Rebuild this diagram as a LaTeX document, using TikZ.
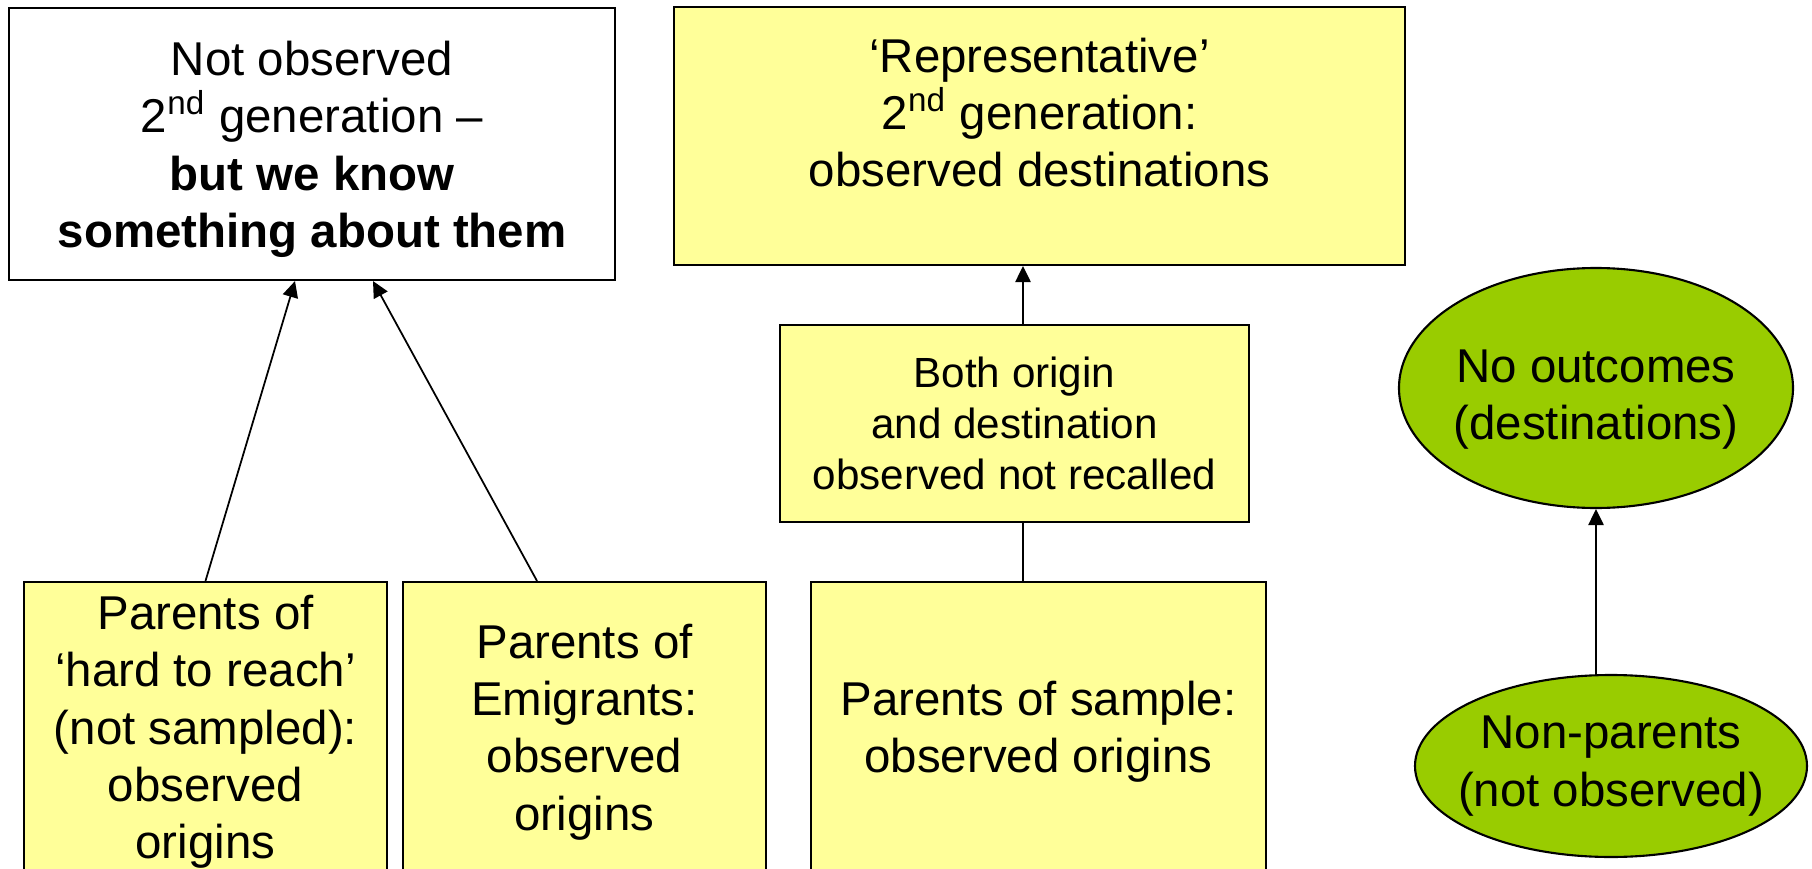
\documentclass[tikz,border=0pt]{standalone}
\usepackage{fontspec}
\setmainfont{Liberation Sans}
\usetikzlibrary{positioning,arrows.meta,shapes.geometric}
\definecolor{paleyellow}{HTML}{FFFF99}
\definecolor{leafgreen}{HTML}{99CC00}

\begin{document}
\begin{tikzpicture}[
    box/.style={draw, line width=0.6pt, inner sep=2pt, align=center,
                font=\fontsize{13.5}{16.3}\selectfont},
    ybox/.style={box, fill=paleyellow},
    oval/.style={draw, ellipse, fill=leafgreen, line width=0.6pt, align=center,
                 inner ysep=0pt, inner xsep=-2mm, font=\fontsize{13.5}{16.3}\selectfont},
    arr/.style={-{Triangle[length=4.6pt,width=4.4pt]}, line width=0.5pt},
    plain/.style={line width=0.5pt},
]
\useasboundingbox (0,0) rectangle (18.12,8.68);

% ===== Top row =====
\node[box, minimum width=6.06cm, minimum height=2.72cm] at (3.12,7.24) (notobs)
     {\rule{0pt}{4.5mm}Not observed\\ 2\textsuperscript{nd} generation –\\ \textbf{but we know}\\ \textbf{something about them}};
\node[ybox, minimum width=7.31cm, minimum height=2.58cm] at (10.395,7.32) (rep)
     {‘Representative’\\ 2\textsuperscript{nd} generation:\\ observed destinations\rule[-4.7mm]{0pt}{0pt}};

% ===== Middle =====
\node[ybox, font=\fontsize{12}{14.5}\selectfont, minimum width=4.69cm, minimum height=1.97cm]
     at (10.145,4.445) (both) {Both origin\\ and destination\\ observed not recalled};
\node[oval, minimum width=3.94cm, minimum height=2.4cm] at (15.96,4.80) (noout)
     {\rule{0pt}{5.6mm}No outcomes\\ (destinations)};

% ===== Bottom row (runs off the page) =====
\node[ybox, minimum width=3.63cm, minimum height=3.0cm] at (2.055,1.36) (hard)
     {Parents of\\ ‘hard to reach’\\ (not sampled):\\ observed\\ origins};
\node[ybox, minimum width=3.63cm, minimum height=3.0cm] at (5.845,1.36) (emig)
     {Parents of\\ Emigrants:\\ observed\\ origins};
\node[ybox, minimum width=4.55cm, minimum height=3.0cm] at (10.385,1.36) (sample)
     {Parents of sample:\\ observed origins};
\node[oval, minimum width=3.92cm, minimum height=1.82cm] at (16.11,1.02) (nonpar)
     {Non-parents\\ (not observed)};

% ===== Arrows =====
\draw[arr] (hard.north) -- ([xshift=-1.7mm]notobs.south);
\draw[arr] ([xshift=-4.75mm]emig.north) -- ([xshift=6.1mm]notobs.south);

\coordinate (bothtop) at ([xshift=0.85mm]both.north);
\coordinate (bothbot) at ([xshift=0.85mm]both.south);
\draw[arr] (bothtop) -- (bothtop |- rep.south);
\draw[plain] (sample.north -| bothbot) -- (bothbot);

\draw[arr] (nonpar.north -| noout.south) -- (noout.south);

\end{tikzpicture}
\end{document}
